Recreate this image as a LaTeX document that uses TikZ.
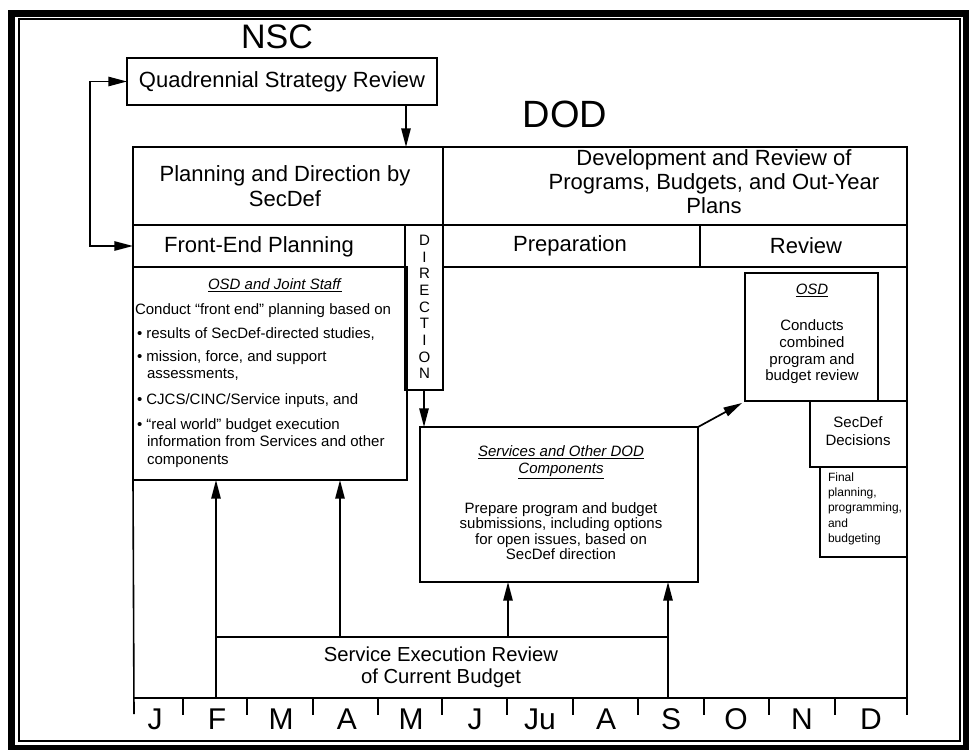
\documentclass[tikz,border=0pt]{standalone}
\usepackage{fontspec}
\setmainfont{Liberation Sans}
\usetikzlibrary{arrows.meta,fit,calc}
\newcommand\bodyf{\fontsize{11.25}{12.75}\selectfont}
\newcommand\bigf{\fontsize{16.5}{18.75}\selectfont}
\newcommand\smallf{\fontsize{9}{11}\selectfont}
\newcommand\serf{\fontsize{15.2}{16.5}\selectfont}
\newcommand\ttl[1]{\underline{\textit{#1}}}
\begin{document}
\begin{tikzpicture}[x=0.75pt,y=-0.75pt,
  box/.style={draw,line width=1.2pt,inner sep=0pt,outer sep=0pt},
  lbl/.style={inner sep=0pt,outer sep=0pt},
  bl/.style={lbl,anchor=base west,font=\bodyf},
  bc/.style={lbl,anchor=base,font=\bodyf},
  arr/.style={line width=1.3pt,-{Triangle[length=14pt,width=7pt]}},
  month/.style={lbl,anchor=base,font=\fontsize{22.5}{23}\selectfont}]
\fill[white] (0,0) rectangle (970,749);
\useasboundingbox (0,0) rectangle (970,749);
% frame
\draw[line width=5.2pt] (11.5,13.5) rectangle (966,748);
\draw[line width=1.1pt] (19,19) rectangle (960,741);
% headings
\node[lbl,font=\fontsize{25.5}{27}\selectfont] (nsc) at (277,37) {NSC};
\node[lbl,font=\fontsize{28.5}{30}\selectfont] (dod) at (565,114) {DOD};
% boxes
\node[box,fit={(127,58) (437,105)}] (qsr) {};
\node[lbl,font=\bigf] (qsrt) at (282,82) {Quadrennial Strategy Review};
\node[box,fit={(133,147) (443,225)}] (plan) {};
\node[lbl,font=\bigf,align=center] (plant) at (285,186) {Planning and Direction by\\SecDef};
\node[box,fit={(443,147) (907,225)}] (dev) {};
\node[lbl,font=\fontsize{16.5}{18}\selectfont,align=center] (devt) at (714,182) {Development and Review of\\Programs, Budgets, and Out-Year\\Plans};
\node[box,fit={(133,225) (405,267)}] (front) {};
\node[lbl,font=\bigf] (frontt) at (259,247) {Front-End Planning};
\node[box,fit={(405,225) (443,390)}] (dir) {};
\node[lbl,font=\fontsize{11.3}{12.5}\selectfont,align=center] (dirt) at (424.5,307) {D\\I\\R\\E\\C\\T\\I\\O\\N};
\node[box,fit={(443,225) (700,267)}] (prep) {};
\node[lbl,font=\bigf] (prept) at (570,246) {Preparation};
\node[box,fit={(700,225) (907,267)}] (rev) {};
\node[lbl,font=\bigf] (revt) at (806,246) {Review};
% OSD and Joint Staff
\node[box,fit={(133,267) (407,480)}] (osdjs) {};
\node[bc] (js0) at (275,289) {\ttl{OSD and Joint Staff}};
\node[bl] (js1) at (135,314) {Conduct “front end” planning based on};
\node[bl] (js2) at (137,338) {\textbullet\ results of SecDef-directed studies,};
\node[bl] (js3) at (137,361) {\textbullet\ mission, force, and support};
\node[bl] (js4) at (147,378) {assessments,};
\node[bl] (js5) at (137,404) {\textbullet\ CJCS/CINC/Service inputs, and};
\node[bl] (js6) at (137,429) {\textbullet\ “real world” budget execution};
\node[bl] (js7) at (147,446) {information from Services and other};
\node[bl] (js8) at (147,464) {components};
% Services box
\node[box,fit={(420,427) (698,582)}] (svc) {};
\node[bc] (sv1) at (561,456) {\ttl{Services and Other DOD}};
\node[bc] (sv2) at (561,473) {\ttl{Components}};
\node[bc] (sv3) at (561,513) {Prepare program and budget};
\node[bc] (sv4) at (561,528.5) {submissions, including options};
\node[bc] (sv5) at (561,544) {for open issues, based on};
\node[bc] (sv6) at (561,559.5) {SecDef direction};
% OSD review box
\node[box,fit={(745,273) (878,401)}] (osd) {};
\node[bc] (os0) at (812,294) {\ttl{OSD}};
\node[bc] (os1) at (812,330) {Conducts};
\node[bc] (os2) at (812,347) {combined};
\node[bc] (os3) at (812,364) {program and};
\node[bc] (os4) at (812,380) {budget review};
\node[box,fit={(810,401) (907,467)}] (secd) {};
\node[bc] (sd1) at (858,427) {SecDef};
\node[bc] (sd2) at (858,445) {Decisions};
\node[box,fit={(820,467) (907,557)}] (fin) {};
\node[lbl,anchor=base west,font=\smallf] (f1) at (828,481) {Final};
\node[lbl,anchor=base west,font=\smallf] (f2) at (828,496) {planning,};
\node[lbl,anchor=base west,font=\smallf] (f3) at (828,511) {programming,};
\node[lbl,anchor=base west,font=\smallf] (f4) at (828,527) {and};
\node[lbl,anchor=base west,font=\smallf] (f5) at (828,542) {budgeting};
% Service execution box
\node[box,fit={(216,637) (668,698)}] (ser) {};
\node[lbl,anchor=base,font=\serf] (ser1) at (441,661) {Service Execution Review};
\node[lbl,anchor=base,font=\serf] (ser2) at (441,683) {of Current Budget};
% timeline
\coordinate (axL) at (134,714);
\coordinate (axR) at (907,715);
\draw[line width=1.2pt] (osdjs.south west) -- (axL);
\draw[line width=1.2pt] (rev.south east) -- (axR);
\draw[line width=1.2pt] (134,698) -- (907,698);
\foreach \x in {183,247,313,378,442,507,573,638,704,769,835}
  \draw[line width=1.1pt] (\x,698) -- (\x,715);
\foreach \m/\x in {J/155,F/217,M/281,A/347,M/411,J/475,Ju/540,A/606,S/671,O/736,N/802,D/871}
  \node[month] (mon\x) at (\x,729) {\m};
% connectors
\coordinate (loopx) at (90,0);
\draw[line width=1.3pt,{Triangle[length=14pt,width=7pt]}-{Triangle[length=14pt,width=7pt]}]
  (front.west) -- (front.west -| loopx) -- (qsr.west -| loopx) -- (qsr.west);
\coordinate (qa) at (406,0);
\draw[arr] (qa |- qsr.south) -- (qa |- plan.north);
\draw[arr] (dir.south) -- (dir.south |- svc.north);
\draw[arr] (svc.north east) -- ($(osd.south west)+(-3,2)$);
\coordinate (aF) at (216,698);
\draw[arr] (aF) -- (aF |- osdjs.south);
\coordinate (aM) at (340,0);
\draw[arr] (aM |- ser.north) -- (aM |- osdjs.south);
\coordinate (aJ) at (508,0);
\draw[arr] (aJ |- ser.north) -- (aJ |- svc.south);
\draw[arr] (ser.south east) -- (ser.south east |- svc.south);
\end{tikzpicture}
\end{document}
